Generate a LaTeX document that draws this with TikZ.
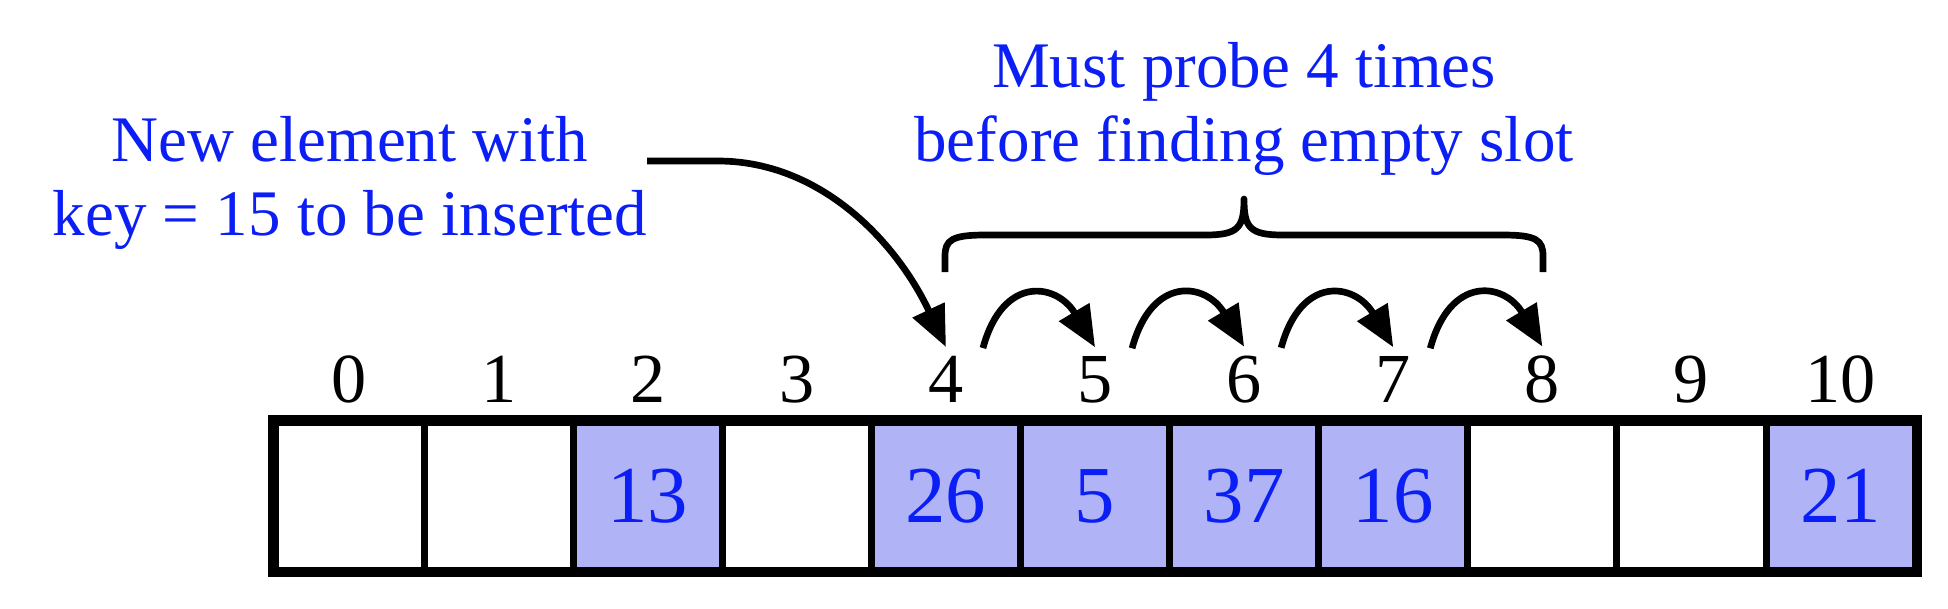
\documentclass[tikz,border=0pt]{standalone}
\usepackage{fontspec}
\setmainfont{Liberation Serif}
\usetikzlibrary{arrows.meta,calc}
\definecolor{txtblue}{RGB}{10,30,245}
\definecolor{cellfill}{RGB}{176,180,247}
\begin{document}
\begin{tikzpicture}[x=0.1mm,y=-0.1mm,
  cell/.style={draw=black,line width=2pt,minimum width=14.91mm,minimum height=14.8mm,inner sep=0pt,
    text=txtblue,font=\fontsize{23}{26}\selectfont},
  idx/.style={inner sep=0pt,anchor=base,font=\fontsize{20}{22}\selectfont},
  lbl/.style={inner sep=0pt,anchor=base,align=center,text=txtblue,font=\fontsize{18.5}{21}\selectfont},
  arr/.style={line width=1.9pt,-{Triangle[length=4.1mm,width=3.4mm]}},
  bracestyle/.style={line width=1.9pt,line join=round}]
\useasboundingbox (0,0) rectangle (1948,608);
% cells
\foreach \i/\v/\f in {0//white,1//white,2/13/cellfill,3//white,4/26/cellfill,5/5/cellfill,6/37/cellfill,7/16/cellfill,8//white,9//white,10/21/cellfill}{
  \pgfmathsetmacro{\cx}{275+149.1*\i+74.55}
  \node[cell,fill=\f] (c\i) at (\cx,496) {\v};
  \node[idx] (i\i) at (\cx,402) {\i};
}
\draw[line width=2pt] (c0.north west) rectangle (c10.south east);
% labels
\node[lbl] (newlbl) at (350,235) {New element with\\key = 15 to be inserted};
\node[lbl] (probelbl) at (1244,161) {Must probe 4 times\\before finding empty slot};
% big arrow
\coordinate (s0) at (647,161);
\draw[arr] (s0) -- ++(71,0) .. controls +(102,0) and +(-50,-106) .. ($(i4.north)+(0,-8)$);
% probe arrows
\foreach \a/\b in {4/5,5/6,6/7,7/8}
  \draw[arr] ($(i\a.north)+(37,-7)$) .. controls +(20,-74) and +(-38,-64) .. ($(i\b.north)+(0,-8)$);
% brace
\draw[bracestyle] (945,272) -- (945,256) .. controls (945,240) and (952,235) .. (985,235) -- (1205,235)
  .. controls (1238,235) and (1244,228) .. (1244,199)
  .. controls (1244,228) and (1250,235) .. (1283,235) -- (1503,235)
  .. controls (1536,235) and (1543,240) .. (1543,256) -- (1543,272);
\end{tikzpicture}
\end{document}
